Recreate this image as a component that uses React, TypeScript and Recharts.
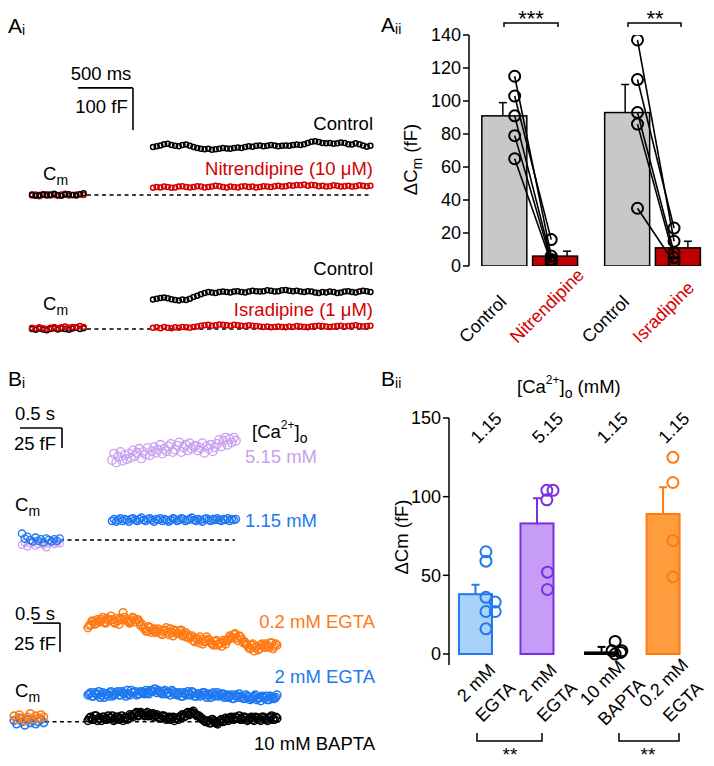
import React from "react";
import {
  ComposedChart,
  ScatterChart,
  Scatter,
  Bar,
  XAxis,
  YAxis,
  ReferenceLine,
} from "recharts";

const FONT = "'Liberation Sans', Arial, Helvetica, sans-serif";

const BLACK = "#000000";
const RED = "#d40000";
const RED_BAR = "#c00000";
const GRAY_BAR = "#c8c8c8";
const PURPLE_LIGHT = "#c9a0ef";
const BLUE = "#1f78f0";
const PURPLE = "#7a2ee6";
const ORANGE = "#ff7a14";
const BLUE_FILL = "#a8d2fa";
const PURPLE_FILL = "#c79cf7";
const ORANGE_FILL = "#ff9c3e";

// ---------- Ai traces (fF), sampled every 33.5 ms ----------
const AI_CTRL_NITR = [
  114, 116, 118, 121, 122, 119, 117, 116, 119, 120,
  117, 114, 112, 110, 109, 110, 108, 109, 110, 112,
  111, 110, 112, 113, 112, 114, 116, 115, 117, 118,
  116, 117, 119, 118, 116, 117, 118, 117, 119, 120,
  119, 121, 124, 127, 128, 126, 124, 123, 124, 122,
  123, 125, 124, 121, 120, 123, 121, 118, 115, 117,
];
const AI_NITR = [
  17, 19, 18, 20, 19, 17, 18, 20, 21, 19,
  18, 19, 21, 20, 18, 19, 20, 22, 21, 19,
  18, 20, 19, 18, 20, 21, 19, 20, 18, 19,
  21, 20, 19, 21, 22, 20, 21, 23, 22, 24,
  23, 25, 22, 24, 23, 21, 22, 20, 21, 23,
  22, 20, 21, 22, 20, 21, 23, 22, 21, 22,
];
const AI_PRE_CTRL_NITR = [1, -2, 0, 2, -1, 1, 3, 0, -2, 1, 2, 0, -1, 2, 4];
const AI_PRE_NITR = [-1, 1, -3, 0, 2, -1, 0, -2, 1, 3, -1, 0, 1, 2, 0];

const AI_CTRL_ISR = [
  70, 72, 74, 75, 73, 71, 69, 68, 70, 69,
  72, 76, 79, 83, 86, 88, 87, 86, 88, 89,
  88, 87, 89, 90, 88, 87, 89, 91, 90, 89,
  90, 92, 91, 89, 90, 92, 93, 91, 90, 91,
  89, 88, 90, 89, 87, 86, 88, 87, 89, 88,
  86, 87, 89, 90, 88, 87, 89, 91, 90, 88,
];
const AI_ISR = [
  3, 4, 2, 5, 3, 2, 4, 3, 5, 4,
  3, 5, 6, 8, 9, 10, 8, 9, 11, 10,
  9, 8, 10, 9, 8, 7, 9, 8, 7, 6,
  5, 6, 4, 5, 6, 5, 4, 6, 5, 7,
  6, 5, 4, 6, 7, 8, 7, 6, 5, 6,
  7, 8, 6, 7, 8, 9, 7, 6, 7, 8,
];
const AI_PRE_CTRL_ISR = [0, -2, 1, -1, -3, 0, 2, -1, 1, 0, -2, 1, 3, 0, 2];
const AI_PRE_ISR = [3, 1, 4, 2, 0, 3, 5, 2, 4, 6, 3, 5, 4, 7, 5];

// ---------- Bi traces (fF) ----------
const BI_CA515 = [
  100, 108, 97, 104, 110, 99, 106, 101, 108, 103,
  112, 105, 109, 114, 102, 110, 107, 115, 106, 111,
  116, 109, 113, 119, 108, 114, 111, 117, 120, 110,
  113, 118, 122, 110, 116, 119, 112, 121, 114, 117,
  118, 112, 115, 121, 109, 117, 114, 119, 111, 116,
  120, 125, 117, 124, 128, 119, 126, 122, 128, 124,
];
const BI_CA115 = [
  24, 26, 23, 25, 27, 24, 26, 25, 23, 26,
  27, 25, 24, 26, 28, 25, 24, 26, 27, 25,
  23, 26, 25, 27, 24, 26, 25, 23, 25, 27,
  26, 24, 25, 27, 26, 24, 25, 26, 28, 25,
  24, 26, 25, 23, 26, 27, 25, 24, 26, 25,
  27, 25, 24, 26, 25, 27, 24, 26, 25, 26,
];
const BI_PRE_CA515 = [-6, -3, -8, -4, -2, -7, -5, -3, -6, -9, -4, -2, -5, -3, -4];
const BI_PRE_CA115 = [8, 2, 4, 0, -2, 3, -1, 1, -3, 2, 0, -2, 1, -1, 2];

// sampled every 50 ms; the *_B arrays are the samples in between
const BI_EGTA02 = [
  81, 84, 86, 85,
  87, 88, 86, 89, 87, 88, 85, 87, 89, 94, 88, 86, 87, 89, 88, 86,
  84, 80, 78, 81, 79, 77,
  80, 76, 78, 81, 75, 77, 79, 76, 78, 74, 77,
  75, 73, 70, 72, 68, 71, 69, 73,
  70, 67, 69, 66, 68, 70, 67,
  71, 73, 75, 72, 74, 71,
  69, 66, 63, 67, 64, 62, 66, 65,
  67, 64, 68, 65, 66,
];
const BI_EGTA02_B = [
  83, 87, 84, 88,
  86, 90, 85, 88, 91, 86, 89, 84, 88, 90, 87, 85, 90, 86, 88, 83,
  81, 78, 82, 77, 80, 78,
  78, 75, 79, 77, 80, 74, 78, 76, 79, 75, 73,
  72, 74, 69, 71, 73, 67, 70, 71,
  68, 66, 70, 67, 65, 69, 70,
  74, 72, 76, 70, 73, 68,
  67, 64, 66, 61, 65, 63, 67, 64,
  65, 68, 63, 67,
];
const BI_EGTA2 = [
  23, 25, 22, 24, 26, 23, 21, 24, 25, 22,
  24, 26, 23, 25, 22, 24, 27, 25, 23, 24,
  26, 24, 25, 27, 26, 28, 27, 25, 26, 24,
  25, 27, 24, 23, 25, 22, 24, 26, 23, 25,
  22, 24, 23, 25, 21, 23, 24, 22, 25, 23,
  24, 22, 21, 23, 20, 22, 24, 21, 20, 22,
  19, 21, 23, 20, 18, 21, 22, 19, 21, 20,
  23,
];
const BI_EGTA2_B = [
  24, 22, 25, 23, 21, 25, 24, 22, 26, 23,
  25, 23, 26, 24, 27, 23, 25, 26, 24, 26,
  25, 27, 24, 26, 28, 25, 26, 24, 27, 25,
  23, 26, 25, 24, 22, 25, 23, 24, 26, 22,
  24, 22, 25, 23, 24, 21, 25, 23, 22, 24,
  21, 23, 22, 20, 23, 21, 22, 20, 23, 21,
  20, 22, 19, 21, 22, 20, 19, 22, 20, 21,
];
const BI_BAPTA = [
  1, 4, 2, 5, 3, 1, 4, 2, 3, 5,
  2, 4, 3, 1, 4, 3, 5, 6, 8, 6,
  7, 5, 8, 6, 7, 5, 4, 3, 5, 2,
  4, 3, 1, 3, 4, 6, 5, 8, 7, 9,
  6, 5, 3, 1, 0, -1, 2, 0, -2, 1,
  0, 3, 1, 4, 2, 3, 5, 2, 4, 1,
  3, 2, 4, 3, 1, 4, 2, 3, 5, 2,
  3,
];
const BI_BAPTA_B = [
  3, 2, 5, 1, 3, 4, 2, 5, 3, 1,
  4, 2, 5, 3, 2, 6, 4, 7, 5, 8,
  6, 7, 5, 6, 4, 6, 3, 5, 4, 3,
  2, 4, 3, 2, 5, 4, 7, 6, 8, 7,
  5, 4, 2, 0, 1, -1, 1, -1, 0, 2,
  1, 2, 3, 2, 4, 3, 2, 4, 3, 2,
  4, 1, 3, 2, 4, 3, 1, 4, 2, 4,
];
const BI_PRE_EGTA02 = [5, 2, 6, 3, 1, 4, 7, 2, 5, 3, 6, 4];
const BI_PRE_EGTA2 = [1, -2, 3, 0, -3, 2, -1, 1, -2, 0, 2, -1];

// ---------- Aii summary ----------
const AII_LABELS = ["Control", "Nitrendipine", "Control", "Isradipine"];
const AII_MEAN = [91, 6, 93, 11];
const AII_SEM = [8, 3, 17, 4];
const AII_CTRL_NITR = [115, 103, 91, 79, 65];
const AII_NITR_PTS = [6, 16, 4, 3, 2];
const AII_CTRL_ISR = [137, 113, 93, 86, 35];
const AII_ISR_PTS = [15, 23, 8, 5, 2];
const AII_TICKS = [0, 20, 40, 60, 80, 100, 120, 140];

// ---------- Bii summary ----------
const BII_LABEL_1 = ["2 mM", "2 mM", "10 mM", "0.2 mM"];
const BII_LABEL_2 = ["EGTA", "EGTA", "BAPTA", "EGTA"];
const BII_CA = ["1.15", "5.15", "1.15", "1.15"];
const BII_MEAN = [38, 83, 1, 89];
const BII_SEM = [6, 16, 3.5, 17];
const BII_POINTS = [
  [65, 59, 36, 33, 27, 27, 16],
  [104, 104, 98, 52, 41],
  [8, 2, 2, 0, 1],
  [125, 109, 72, 49],
];
const BII_TICKS = [0, 50, 100, 150];

// ---------- layout ----------
const AII_POS = [0, 1, 2.42, 3.42];
const AII_BAR_W = 45;
const AII_ERR_DX = [-1.5, 12, -2, 10];
const AII_FILL = [GRAY_BAR, RED_BAR, GRAY_BAR, RED_BAR];
const AII_LABEL_COLOR = [BLACK, RED, BLACK, RED];
const AII_CTRL_DX = 0.2;
const AII_DRUG_DX = -0.08;

const BII_POS = [0, 1, 2.05, 3.05];
const BII_BAR_W = 33;
const BII_FILL = [BLUE_FILL, PURPLE_FILL, "#ffffff", ORANGE_FILL];
const BII_STROKE = [BLUE, PURPLE, BLACK, ORANGE];
const BII_JITTER = [
  [0.17, 0.17, 0.17, 0.32, 0.17, 0.32, 0.17],
  [0.16, 0.26, 0.16, 0.17, 0.17],
  [0.22, 0.17, 0.33, 0.22, 0.31],
  [0.16, 0.16, 0.16, 0.16],
];

type Trace = { values: number[]; t0: number; dt: number; color: string; r: number; sw: number };
type PanelProps = {
  left: number;
  top: number;
  width: number;
  height: number;
  x0: number;
  y0: number;
  kx: number;
  ky: number;
  traces: Trace[];
  base: [number, number];
  bar?: { t: number; v: number; ms: number; fF: number };
};

function TracePanel(p: PanelProps) {
  const xDom = [(p.left - p.x0) / p.kx, (p.left + p.width - p.x0) / p.kx];
  const yDom = [(p.y0 - (p.top + p.height)) / p.ky, (p.y0 - p.top) / p.ky];
  const refs = [
    <ReferenceLine
      key="base"
      segment={[{ x: p.base[0], y: 0 }, { x: p.base[1], y: 0 }]}
      stroke={BLACK}
      strokeWidth={1.4}
      strokeDasharray="4 3.5"
    />,
  ];
  if (p.bar) {
    const b = p.bar;
    refs.push(
      <ReferenceLine
        key="sbh"
        segment={[{ x: b.t - b.ms, y: b.v }, { x: b.t, y: b.v }]}
        stroke={BLACK}
        strokeWidth={1.6}
      />,
      <ReferenceLine
        key="sbv"
        segment={[{ x: b.t, y: b.v }, { x: b.t, y: b.v - b.fF }]}
        stroke={BLACK}
        strokeWidth={1.6}
      />
    );
  }
  return (
    <div style={{ position: "absolute", left: p.left, top: p.top }}>
      <ScatterChart width={p.width} height={p.height} margin={{ top: 0, right: 0, bottom: 0, left: 0 }}>
        <XAxis type="number" dataKey="t" domain={xDom} hide allowDataOverflow />
        <YAxis type="number" dataKey="v" domain={yDom} hide allowDataOverflow />
        {refs}
        {p.traces.map((tr, i) => (
          <Scatter
            key={i}
            data={tr.values.map((v, j) => ({ t: tr.t0 + j * tr.dt, v }))}
            isAnimationActive={false}
            shape={(s: any) => (
              <circle cx={s.cx} cy={s.cy} r={tr.r} fill="none" stroke={tr.color} strokeWidth={tr.sw} />
            )}
          />
        ))}
      </ScatterChart>
    </div>
  );
}

const circle = (color: string, r: number, sw: number) => (s: any) =>
  <circle cx={s.cx} cy={s.cy} r={r} fill="none" stroke={color} strokeWidth={sw} />;

function AiiBarShape(p: any) {
  const i = p.index;
  const k = p.height / AII_MEAN[i];
  const cx = p.x + p.width / 2;
  const x = cx - AII_BAR_W / 2;
  const ex = cx + AII_ERR_DX[i];
  const top = p.y - AII_SEM[i] * k;
  return (
    <g>
      <line x1={ex} x2={ex} y1={p.y} y2={top} stroke={BLACK} strokeWidth={1.5} />
      <line x1={ex - 4} x2={ex + 4} y1={top} y2={top} stroke={BLACK} strokeWidth={1.5} />
      <rect x={x} y={p.y} width={AII_BAR_W} height={p.height} fill={AII_FILL[i]} stroke={BLACK} strokeWidth={1.5} />
    </g>
  );
}

function BiiBarShape(p: any) {
  const i = p.index;
  const k = p.height / BII_MEAN[i];
  const cx = p.x + p.width / 2;
  const x = cx - BII_BAR_W / 2;
  const top = p.y - BII_SEM[i] * k;
  return (
    <g>
      <line x1={cx} x2={cx} y1={p.y} y2={top} stroke={BII_STROKE[i]} strokeWidth={2} />
      <line x1={cx - 4} x2={cx + 4} y1={top} y2={top} stroke={BII_STROKE[i]} strokeWidth={2} />
      <rect x={x} y={p.y} width={BII_BAR_W} height={p.height} fill={BII_FILL[i]} stroke={BII_STROKE[i]} strokeWidth={2} />
    </g>
  );
}

function AiiTick(p: any) {
  const i = AII_POS.indexOf(p.payload.value);
  if (i < 0) return null;
  const sx = p.x - 38;
  const sy = 344;
  return (
    <text
      x={sx}
      y={sy}
      transform={`rotate(-45 ${sx} ${sy})`}
      textAnchor="start"
      fontSize={18}
      fontFamily={FONT}
      fill={AII_LABEL_COLOR[i]}
    >
      {AII_LABELS[i]}
    </text>
  );
}

function BiiTick(p: any) {
  const i = BII_POS.indexOf(p.payload.value);
  if (i < 0) return null;
  const ax = p.x + 5;
  const ay = 307;
  const nx = p.x + 15;
  const ny = 52;
  return (
    <g>
      <text transform={`rotate(-45 ${ax} ${ay})`} textAnchor="middle" fontSize={18} fontFamily={FONT} fill={BLACK}>
        <tspan x={ax} y={ay}>{BII_LABEL_1[i]}</tspan>
        <tspan x={ax} dy={27}>{BII_LABEL_2[i]}</tspan>
      </text>
      <text x={nx} y={ny} transform={`rotate(-45 ${nx} ${ny})`} textAnchor="middle" fontSize={18} fontFamily={FONT} fill={BLACK}>
        {BII_CA[i]}
      </text>
    </g>
  );
}

function AiiChart() {
  const data = AII_MEAN.map((m, i) => ({ x: AII_POS[i], y: m }));
  const pairs = [
    ...AII_CTRL_NITR.map((c, j) => [
      { x: AII_POS[0] + AII_CTRL_DX, y: c },
      { x: AII_POS[1] + AII_DRUG_DX, y: AII_NITR_PTS[j] },
    ]),
    ...AII_CTRL_ISR.map((c, j) => [
      { x: AII_POS[2] + AII_CTRL_DX, y: c },
      { x: AII_POS[3] + AII_DRUG_DX, y: AII_ISR_PTS[j] },
    ]),
  ];
  return (
    <div style={{ position: "absolute", left: 360, top: 0 }}>
      <ComposedChart width={354} height={350} data={data} margin={{ top: 35, right: 9, bottom: 0, left: 0 }}>
        <XAxis
          type="number"
          dataKey="x"
          domain={[-0.7, 3.95]}
          ticks={AII_POS}
          interval={0}
          axisLine={false}
          tickLine={false}
          height={84}
          allowDataOverflow
          tick={<AiiTick />}
        />
        <YAxis
          type="number"
          domain={[0, 140]}
          ticks={AII_TICKS}
          interval={0}
          width={109}
          tickSize={6}
          axisLine={{ stroke: BLACK, strokeWidth: 1.5 }}
          tickLine={{ stroke: BLACK, strokeWidth: 1.5 }}
          tick={{ fontSize: 18, fill: BLACK, fontFamily: FONT }}
          allowDataOverflow
        />
        <Bar dataKey="y" barSize={AII_BAR_W} isAnimationActive={false} shape={<AiiBarShape />} />
        {pairs.map((pts, i) => (
          <Scatter
            key={i}
            data={pts}
            dataKey="y"
            line={{ stroke: BLACK, strokeWidth: 1.6 }}
            isAnimationActive={false}
            shape={circle(BLACK, 5.5, 2)}
          />
        ))}
      </ComposedChart>
    </div>
  );
}

function BiiChart() {
  const data = BII_MEAN.map((m, i) => ({ x: BII_POS[i], y: m }));
  return (
    <div style={{ position: "absolute", left: 360, top: 380 }}>
      <ComposedChart width={354} height={386} data={data} margin={{ top: 38, right: 14, bottom: 0, left: 0 }}>
        <XAxis
          type="number"
          dataKey="x"
          domain={[-0.431, 3.65]}
          ticks={BII_POS}
          interval={0}
          axisLine={false}
          tickLine={false}
          height={101}
          allowDataOverflow
          tick={<BiiTick />}
        />
        <YAxis
          type="number"
          domain={[-7, 150]}
          ticks={BII_TICKS}
          interval={0}
          width={89}
          tickSize={6}
          axisLine={{ stroke: BLACK, strokeWidth: 1.5 }}
          tickLine={{ stroke: BLACK, strokeWidth: 1.5 }}
          tick={{ fontSize: 18, fill: BLACK, fontFamily: FONT }}
          allowDataOverflow
        />
        <Bar dataKey="y" barSize={BII_BAR_W} isAnimationActive={false} shape={<BiiBarShape />} />
        {BII_POINTS.map((vals, g) => (
          <Scatter
            key={g}
            data={vals.map((v, j) => ({ x: BII_POS[g] + BII_JITTER[g][j], y: v }))}
            dataKey="y"
            isAnimationActive={false}
            shape={circle(BII_STROKE[g], 5.5, 2)}
          />
        ))}
      </ComposedChart>
    </div>
  );
}

function Overlay() {
  const t = { fontFamily: FONT, fontSize: 18.5, fill: BLACK };
  return (
    <svg
      width={714}
      height={766}
      style={{ position: "absolute", left: 0, top: 0, pointerEvents: "none" }}
    >
      {/* Ai */}
      <text x={8} y={33} {...t} fontSize={21}>
        A<tspan fontSize={14} dy={2}>i</tspan>
      </text>
      <text x={101} y={80} {...t} textAnchor="middle">500 ms</text>
      <text x={101.5} y={113} {...t} textAnchor="middle">100 fF</text>
      <text x={373} y={129.5} {...t} textAnchor="end">Control</text>
      <text x={373} y={175} {...t} fill={RED} textAnchor="end">Nitrendipine (10 μM)</text>
      <text x={43} y={180} {...t}>
        C<tspan fontSize={14} dy={5}>m</tspan>
      </text>
      <text x={373} y={274.5} {...t} textAnchor="end">Control</text>
      <text x={373} y={316} {...t} fill={RED} textAnchor="end">Isradipine (1 μM)</text>
      <text x={43} y={310} {...t}>
        C<tspan fontSize={14} dy={5}>m</tspan>
      </text>

      {/* Aii */}
      <text x={381} y={32} {...t} fontSize={21}>
        A<tspan fontSize={14} dy={2}>ii</tspan>
      </text>
      <text x={416.5} y={159.5} {...t} textAnchor="middle" transform="rotate(-90 416.5 159.5)">
        ΔC<tspan fontSize={14} dy={5}>m</tspan>
        <tspan dy={-5}> (fF)</tspan>
      </text>
      <path d="M504,27 V23 H558 V27" fill="none" stroke={BLACK} strokeWidth={1.5} />
      <text x={531} y={25.5} {...t} fontSize={22} textAnchor="middle">***</text>
      <path d="M628,27 V23 H681 V27" fill="none" stroke={BLACK} strokeWidth={1.5} />
      <text x={655} y={25.5} {...t} fontSize={22} textAnchor="middle">**</text>

      {/* Bi */}
      <text x={8} y={386} {...t} fontSize={21}>
        B<tspan fontSize={14} dy={2}>i</tspan>
      </text>
      <text x={35} y={420} {...t} textAnchor="middle">0.5 s</text>
      <text x={35} y={450} {...t} textAnchor="middle">25 fF</text>
      <text x={252} y={438} {...t}>
        [Ca<tspan fontSize={12} dy={-9}>2+</tspan>
        <tspan dy={9}>]</tspan>
        <tspan fontSize={14} dy={5}>o</tspan>
      </text>
      <text x={245} y={463} {...t} fill={PURPLE_LIGHT}>5.15 mM</text>
      <text x={245} y={527} {...t} fill={BLUE}>1.15 mM</text>
      <text x={15} y={511} {...t}>
        C<tspan fontSize={14} dy={5}>m</tspan>
      </text>
      <text x={35} y={620} {...t} textAnchor="middle">0.5 s</text>
      <text x={35} y={650} {...t} textAnchor="middle">25 fF</text>
      <text x={375} y={628} {...t} fill={ORANGE} textAnchor="end">0.2 mM EGTA</text>
      <text x={375} y={683} {...t} fill={BLUE} textAnchor="end">2 mM EGTA</text>
      <text x={375} y={750} {...t} textAnchor="end">10 mM BAPTA</text>
      <text x={15} y={697} {...t}>
        C<tspan fontSize={14} dy={5}>m</tspan>
      </text>

      {/* Bii */}
      <text x={381} y={386} {...t} fontSize={21}>
        B<tspan fontSize={14} dy={2}>ii</tspan>
      </text>
      <text x={517} y={393} {...t}>
        [Ca<tspan fontSize={12} dy={-9}>2+</tspan>
        <tspan dy={9}>]</tspan>
        <tspan fontSize={14} dy={5}>o</tspan>
        <tspan dy={-5}> (mM)</tspan>
      </text>
      <text x={407.5} y={537} {...t} textAnchor="middle" transform="rotate(-90 407.5 537)">
        ΔCm (fF)
      </text>
      <path d="M477,733 V741 H542 V733" fill="none" stroke={BLACK} strokeWidth={1.5} />
      <text x={510} y={761} {...t} fontSize={19} textAnchor="middle">**</text>
      <path d="M619,733 V741 H679 V733" fill="none" stroke={BLACK} strokeWidth={1.5} />
      <text x={648} y={761} {...t} fontSize={19} textAnchor="middle">**</text>
    </svg>
  );
}

export default function App() {
  return (
    <div
      style={{
        position: "absolute",
        left: 0,
        top: 0,
        width: 714,
        height: 766,
        background: "#fff",
        overflow: "hidden",
        fontFamily: FONT,
      }}
    >
      <TracePanel
        left={-1}
        top={60}
        width={400}
        height={160}
        x0={153}
        y0={195}
        kx={0.11}
        ky={0.42}
        base={[-600, 1970]}
        bar={{ t: -182, v: 255, ms: 500, fF: 100 }}
        traces={[
          { values: AI_PRE_NITR, t0: -1100, dt: 33.5, color: RED, r: 2.5, sw: 1.5 },
          { values: AI_PRE_CTRL_NITR, t0: -1100, dt: 33.5, color: BLACK, r: 2.5, sw: 1.5 },
          { values: AI_CTRL_NITR, t0: 0, dt: 33.5, color: BLACK, r: 2.5, sw: 1.5 },
          { values: AI_NITR, t0: 0, dt: 33.5, color: RED, r: 2.5, sw: 1.5 },
        ]}
      />
      <TracePanel
        left={-1}
        top={240}
        width={400}
        height={110}
        x0={153}
        y0={329}
        kx={0.11}
        ky={0.42}
        base={[-600, 1970]}
        traces={[
          { values: AI_PRE_CTRL_ISR, t0: -1100, dt: 33.5, color: BLACK, r: 2.5, sw: 1.5 },
          { values: AI_PRE_ISR, t0: -1100, dt: 33.5, color: RED, r: 2.5, sw: 1.5 },
          { values: AI_CTRL_ISR, t0: 0, dt: 33.5, color: BLACK, r: 2.5, sw: 1.5 },
          { values: AI_ISR, t0: 0, dt: 33.5, color: RED, r: 2.5, sw: 1.5 },
        ]}
      />
      <TracePanel
        left={0}
        top={400}
        width={260}
        height={160}
        x0={112}
        y0={540}
        kx={0.084}
        ky={0.8}
        base={[-619, 1464]}
        bar={{ t: -595, v: 140, ms: 500, fF: 25 }}
        traces={[
          { values: BI_PRE_CA515, t0: -1071, dt: 32, color: PURPLE_LIGHT, r: 3.6, sw: 1.3 },
          { values: BI_PRE_CA115, t0: -1071, dt: 32, color: BLUE, r: 3.6, sw: 1.3 },
          { values: BI_CA515, t0: 0, dt: 25, color: PURPLE_LIGHT, r: 4.3, sw: 1.3 },
          { values: BI_CA115, t0: 0, dt: 25, color: BLUE, r: 3.6, sw: 1.5 },
        ]}
      />
      <TracePanel
        left={0}
        top={600}
        width={300}
        height={140}
        x0={88}
        y0={721.7}
        kx={0.054}
        ky={1.16}
        base={[-796, 3550]}
        bar={{ t: -519, v: 85, ms: 500, fF: 25 }}
        traces={[
          { values: BI_PRE_EGTA2, t0: -1370, dt: 50, color: BLUE, r: 3.8, sw: 1.6 },
          { values: BI_PRE_EGTA02, t0: -1370, dt: 50, color: ORANGE, r: 3.8, sw: 1.6 },
          { values: BI_EGTA02, t0: 0, dt: 50, color: ORANGE, r: 3.9, sw: 1.5 },
          { values: BI_EGTA02_B, t0: 25, dt: 50, color: ORANGE, r: 3.9, sw: 1.5 },
          { values: BI_EGTA2, t0: 0, dt: 50, color: BLUE, r: 3.9, sw: 1.5 },
          { values: BI_EGTA2_B, t0: 25, dt: 50, color: BLUE, r: 3.9, sw: 1.5 },
          { values: BI_BAPTA, t0: 0, dt: 50, color: BLACK, r: 3.9, sw: 1.5 },
          { values: BI_BAPTA_B, t0: 25, dt: 50, color: BLACK, r: 3.9, sw: 1.5 },
        ]}
      />
      <AiiChart />
      <BiiChart />
      <Overlay />
    </div>
  );
}
